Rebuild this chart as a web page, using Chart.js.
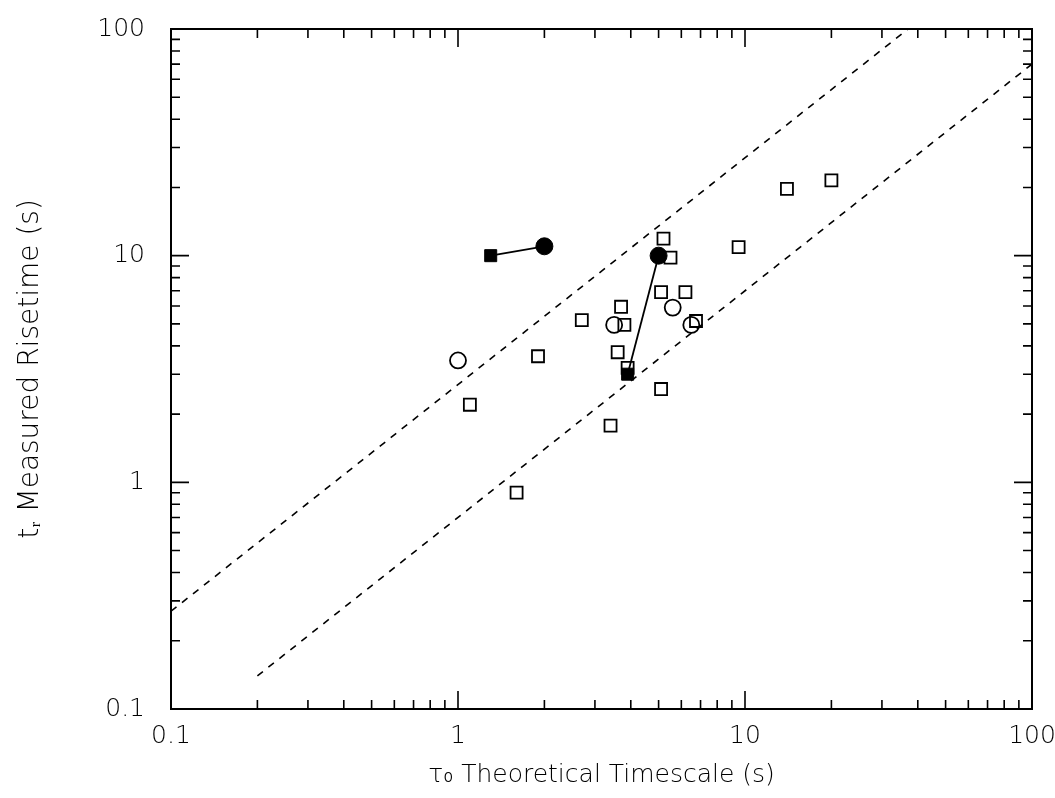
<!DOCTYPE html>
<html>
<head>
<meta charset="utf-8">
<script src="https://cdn.jsdelivr.net/npm/chart.js@4.4.1/dist/chart.umd.min.js"></script>
<style>
  html, body { margin: 0; background: #fff; }
  #wrap { width: 1055px; height: 798px; }
</style>
</head>
<body>
<div id="wrap"><canvas id="myChart"></canvas></div>
<script>
// open squares
const openSquareX = [5.2, 5.5, 9.5, 5.1, 6.2, 3.7, 2.7, 3.8, 6.75, 3.6, 1.9, 3.9, 5.1, 1.1, 3.4, 1.6, 14, 20];
const openSquareY = [11.9, 9.8, 10.9, 6.9, 6.9, 5.95, 5.2, 4.95, 5.15, 3.75, 3.6, 3.2, 2.58, 2.2, 1.78, 0.9, 19.7, 21.5];
// open circles
const openCircleX = [1.0, 3.5, 5.6, 6.5];
const openCircleY = [3.45, 4.95, 5.9, 4.95];
// filled pairs: square -> circle
const filledSquareX = [1.3, 3.9];
const filledSquareY = [10, 3.0];
const filledCircleX = [2.0, 5.0];
const filledCircleY = [11, 10];
// dashed reference lines
const upperLineX = [0.1, 37];
const upperLineY = [0.27, 100];
const lowerLineX = [0.2, 100];
const lowerLineY = [0.14, 70];

const tickValues = [0.1, 1, 10, 100];

const pts = (xs, ys) => xs.map((x, i) => ({ x: x, y: ys[i] }));

const pairLines = filledSquareX.map((x, i) => ({
  type: 'line',
  data: [{ x: x, y: filledSquareY[i] }, { x: filledCircleX[i], y: filledCircleY[i] }],
  borderColor: '#000',
  borderWidth: 1.8,
  pointRadius: 0,
  fill: false
}));

// frame and inside ticks on all four sides
const frameTicks = {
  id: 'frameTicks',
  afterDatasetsDraw(chart) {
    const { ctx, chartArea: a, scales: { x, y } } = chart;
    ctx.save();
    ctx.strokeStyle = '#000';
    ctx.lineWidth = 2;
    ctx.strokeRect(a.left, a.top, a.right - a.left, a.bottom - a.top);
    ctx.lineWidth = 1.6;
    ctx.beginPath();
    tickValues.forEach(d => {
      for (let m = 1; m < 10; m++) {
        const v = d * m;
        if (v > 100) continue;
        const len = m === 1 ? 18 : 9;
        const px = x.getPixelForValue(v);
        ctx.moveTo(px, a.bottom); ctx.lineTo(px, a.bottom - len);
        ctx.moveTo(px, a.top); ctx.lineTo(px, a.top + len);
        const py = y.getPixelForValue(v);
        ctx.moveTo(a.left, py); ctx.lineTo(a.left + len, py);
        ctx.moveTo(a.right, py); ctx.lineTo(a.right - len, py);
      }
    });
    ctx.stroke();
    ctx.restore();
  }
};

const tickFont = { family: 'DejaVu Sans', size: 25, weight: '200' };

new Chart(document.getElementById('myChart'), {
  type: 'scatter',
  data: {
    datasets: [
      {
        type: 'line',
        data: pts(upperLineX, upperLineY),
        borderColor: '#000', borderWidth: 1.6, borderDash: [7, 7],
        pointRadius: 0, fill: false
      },
      {
        type: 'line',
        data: pts(lowerLineX, lowerLineY),
        borderColor: '#000', borderWidth: 1.6, borderDash: [7, 7],
        pointRadius: 0, fill: false
      },
      ...pairLines,
      {
        data: pts(openSquareX, openSquareY),
        pointStyle: 'rect', pointRadius: 8.5,
        backgroundColor: 'rgba(0,0,0,0)', borderColor: '#000', borderWidth: 1.8
      },
      {
        data: pts(openCircleX, openCircleY),
        pointStyle: 'circle', pointRadius: 8,
        backgroundColor: 'rgba(0,0,0,0)', borderColor: '#000', borderWidth: 1.8
      },
      {
        data: pts(filledSquareX, filledSquareY),
        pointStyle: 'rect', pointRadius: 8.5,
        backgroundColor: '#000', borderColor: '#000', borderWidth: 1
      },
      {
        data: pts(filledCircleX, filledCircleY),
        pointStyle: 'circle', pointRadius: 8.5,
        backgroundColor: '#000', borderColor: '#000', borderWidth: 1
      }
    ]
  },
  options: {
    responsive: true,
    maintainAspectRatio: false,
    animation: false,
    layout: { padding: { top: 29, right: 23, left: 0, bottom: 0 } },
    plugins: {
      legend: { display: false },
      tooltip: { enabled: false }
    },
    scales: {
      x: {
        type: 'logarithmic',
        min: 0.1, max: 100,
        afterBuildTicks: s => { s.ticks = tickValues.map(v => ({ value: v })); },
        afterFit: s => { s.height = 89; s.paddingLeft = 0; s.paddingRight = 0; },
        grid: { display: false, drawTicks: false },
        border: { display: false },
        ticks: { color: '#000', font: tickFont, padding: 12, maxRotation: 0, callback: v => String(v) },
        title: {
          display: true,
          text: 'τ₀ Theoretical Timescale (s)',
          color: '#000', font: { family: 'DejaVu Sans', size: 25, weight: '200' },
          padding: { top: 0, bottom: 8 }
        }
      },
      y: {
        type: 'logarithmic',
        min: 0.1, max: 100,
        afterBuildTicks: s => { s.ticks = tickValues.map(v => ({ value: v })); },
        afterFit: s => { s.width = 171; s.paddingTop = 0; s.paddingBottom = 0; },
        grid: { display: false, drawTicks: false },
        border: { display: false },
        ticks: { color: '#000', font: tickFont, padding: 26, callback: v => String(v) },
        title: {
          display: true,
          text: 'tᵣ Measured Risetime (s)',
          color: '#000', font: { family: 'DejaVu Sans', size: 28, weight: '200' },
          padding: { top: 14, bottom: 0 }
        }
      }
    }
  },
  plugins: [frameTicks]
});
</script>
</body>
</html>
